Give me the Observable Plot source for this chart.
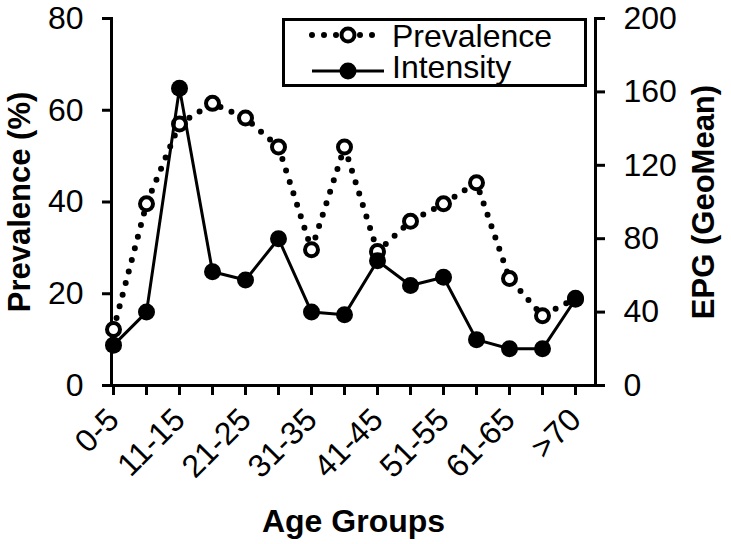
<!DOCTYPE html>
<html><head><meta charset="utf-8">
<script src="https://cdn.jsdelivr.net/npm/d3@7"></script>
<script src="https://cdn.jsdelivr.net/npm/@observablehq/plot@0.6"></script>
<style>
body{margin:0;background:#fff;}
#wrap{position:relative;width:731px;height:544px;font-family:"Liberation Sans",Arial,sans-serif;}
#wrap svg g[aria-label="y-axis label"] text{font-weight:bold;font-size:31px;}
#wrap svg g[aria-label="x-axis label"] text{font-weight:bold;font-size:32px;}
#legend{position:absolute;left:282px;top:18px;width:299px;height:63px;border:3px solid #000;background:#fff;}
#legend svg{position:absolute;left:0;top:0;}
</style>
</head><body>
<div id="wrap"><div id="legend"></div></div>
<script>
const categories = ["0-5","6-10","11-15","16-20","21-25","26-30","31-35","36-40","41-45","46-50","51-55","56-60","61-65","66-70",">70"];
const prevalence = [12.2, 39.6, 57, 61.5, 58.3, 52, 29.6, 52, 29.2, 35.8, 39.6, 44.2, 23.3, 15.2, 19];
const intensity = [22, 40, 162, 62, 57.5, 80, 40, 38.5, 68, 54.5, 59, 25, 20, 20, 47];
const shownLabels = ["0-5","11-15","21-25","31-35","41-45","51-55","61-65",">70"];
const leftTicks = [0, 20, 40, 60, 80];
const rightTicks = [0, 40, 80, 120, 160, 200];
const seriesNames = ["Prevalence", "Intensity"];

const k = 80 / 200;
const data = categories.map((c, i) => ({age: c, prevalence: prevalence[i], intensity: intensity[i]}));

const chart = Plot.plot({
  width: 731, height: 544,
  marginLeft: 111, marginRight: 136, marginTop: 18, marginBottom: 159,
  style: {fontFamily: "Liberation Sans, Arial, sans-serif", fontSize: "32px", color: "#000", background: "#fff", overflow: "visible"},
  x: {type: "point", domain: categories, range: [111, 577], padding: 0},
  y: {domain: [0, 80]},
  marks: [
    Plot.axisY(leftTicks, {anchor: "left", tickSize: 9, tickPadding: 19, strokeWidth: 3, fontSize: 32,
      label: "Prevalence (%)", labelAnchor: "center", labelOffset: 104, labelArrow: "none"}),
    Plot.axisY(rightTicks.map(v => v * k), {anchor: "right", tickSize: 9, tickPadding: 19, strokeWidth: 3, fontSize: 32,
      tickFormat: d => Math.round(d / k),
      label: "EPG (GeoMean)", labelAnchor: "center", labelOffset: 118, labelArrow: "none"}),
    Plot.axisX({tickSize: 10, tickPadding: 19, tickRotate: -45, strokeWidth: 3, fontSize: 32,
      tickFormat: d => shownLabels.includes(d) ? d : "",
      label: "Age Groups", labelAnchor: "center", labelOffset: 146, labelArrow: "none"}),
    Plot.frame({anchor: "left", strokeWidth: 3}),
    Plot.frame({anchor: "right", strokeWidth: 3}),
    Plot.frame({anchor: "bottom", strokeWidth: 3}),
    Plot.line(data, {x: "age", y: "prevalence", stroke: "#000", strokeWidth: 6, strokeDasharray: "0 12", strokeLinecap: "round"}),
    Plot.dot(data, {x: "age", y: "prevalence", r: 6.5, stroke: "#000", strokeWidth: 4, fill: "#fff"}),
    Plot.line(data, {x: "age", y: d => d.intensity * k, stroke: "#000", strokeWidth: 3}),
    Plot.dot(data, {x: "age", y: d => d.intensity * k, r: 8.5, fill: "#000"})
  ]
});
document.getElementById("wrap").prepend(chart);

// legend
const ns = "http://www.w3.org/2000/svg";
const lg = document.createElementNS(ns, "svg");
lg.setAttribute("width", 299); lg.setAttribute("height", 63);
lg.style.overflow = "visible";
lg.innerHTML = `
  <line x1="27" x2="99" y1="14" y2="14" stroke="#000" stroke-width="6" stroke-dasharray="0 12" stroke-linecap="round"/>
  <circle cx="63" cy="14" r="6.5" fill="#fff" stroke="#000" stroke-width="4"/>
  <text x="107" y="26" font-size="32" font-family="Liberation Sans, Arial, sans-serif">${seriesNames[0]}</text>
  <line x1="27" x2="99" y1="50" y2="50" stroke="#000" stroke-width="3"/>
  <circle cx="63" cy="50" r="8.5" fill="#000"/>
  <text x="107" y="57" font-size="32" font-family="Liberation Sans, Arial, sans-serif">${seriesNames[1]}</text>`;
document.getElementById("legend").appendChild(lg);
</script>
</body></html>
